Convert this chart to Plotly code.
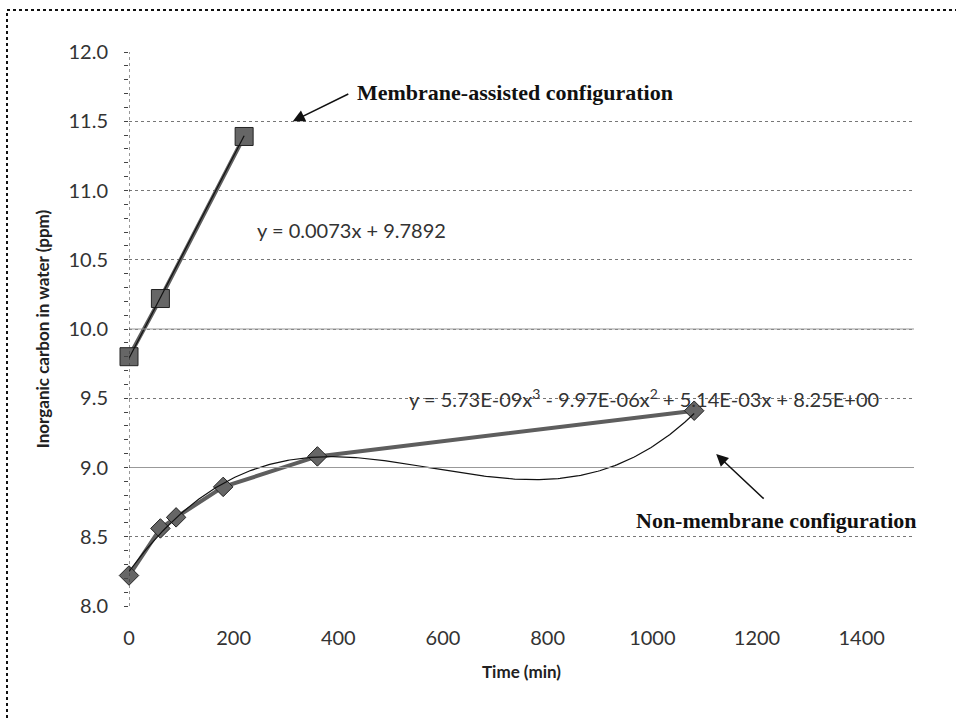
import numpy as np
import plotly.graph_objects as go

# ---- data ----
membrane_time = [0, 60, 220]
membrane_ic = [9.80, 10.22, 11.39]

nonmem_time = [0, 60, 90, 180, 360, 1080]
nonmem_ic = [8.22, 8.56, 8.64, 8.86, 9.08, 9.41]

# trendline coefficients as printed on the chart
lin_coef = [0.0073, 9.7892]                       # slope, intercept
cubic_coef = [5.73e-09, -9.97e-06, 5.14e-03, 8.25]  # x^3, x^2, x, c

x_ticks = [0, 200, 400, 600, 800, 1000, 1200, 1400]
y_ticks = [8.0, 8.5, 9.0, 9.5, 10.0, 10.5, 11.0, 11.5, 12.0]

fig = go.Figure()

xl = np.array([membrane_time[0], membrane_time[-1]], dtype=float)
xc = np.linspace(nonmem_time[0], nonmem_time[-1], 300)

# series lines + markers
fig.add_trace(go.Scatter(
    x=membrane_time, y=membrane_ic, mode="lines+markers",
    line=dict(color="#5e5e5e", width=4),
    marker=dict(symbol="square", size=18, color="#666",
                line=dict(color="#222", width=1)),
    cliponaxis=False, showlegend=False, hoverinfo="skip"))
fig.add_trace(go.Scatter(
    x=nonmem_time, y=nonmem_ic, mode="lines+markers",
    line=dict(color="#5e5e5e", width=4),
    marker=dict(symbol="diamond", size=15, color="#666",
                line=dict(color="#222", width=1)),
    cliponaxis=False, showlegend=False, hoverinfo="skip"))

# trendlines
fig.add_trace(go.Scatter(x=xl, y=np.polyval(lin_coef, xl), mode="lines",
                         line=dict(color="#111", width=1.2),
                         showlegend=False, hoverinfo="skip"))
fig.add_trace(go.Scatter(x=xc, y=np.polyval(cubic_coef, xc), mode="lines",
                         line=dict(color="#111", width=1.2),
                         showlegend=False, hoverinfo="skip"))

tick_font = dict(family="Lato", size=20, color="#333")
title_font = dict(family="Lato", size=17, color="#222")
serif_bold = dict(family="Liberation Serif", size=22, color="#111")

fig.update_layout(
    width=956, height=721,
    margin=dict(l=129, r=42, t=52, b=115),
    paper_bgcolor="white", plot_bgcolor="white",
    xaxis=dict(range=[0, 1500], tickvals=x_ticks,
               ticktext=[str(v) for v in x_ticks],
               showgrid=False, zeroline=False, showline=False,
               automargin=False,
               tickfont=tick_font, ticklabelstandoff=18,
               title=dict(text="<b>Time (min)</b>", font=title_font, standoff=18)),
    yaxis=dict(range=[8.0, 12.0], tickvals=y_ticks,
               ticktext=[f"{v:.1f}" for v in y_ticks],
               showgrid=True, gridcolor="#777", griddash="dot", gridwidth=1,
               zeroline=False, showline=False,
               automargin=False,
               tickfont=tick_font, ticklabelstandoff=20,
               minor=dict(dtick=0.1, ticks="outside", ticklen=4,
                          tickcolor="#444", showgrid=False),
               title=dict(text="<b>Inorganic carbon in water (ppm)</b>",
                          font=title_font, standoff=14)),
)

shapes = []
# solid-looking gridlines at 9.0 and 10.0
for yv in (9.0, 10.0):
    shapes.append(dict(type="line", xref="paper", yref="y", x0=0, x1=1,
                       y0=yv, y1=yv, line=dict(color="#999", width=1)))
# dotted vertical axis line
shapes.append(dict(type="line", xref="x", yref="paper", x0=0, x1=0, y0=0, y1=1,
                   line=dict(color="#333", width=1, dash="dot")))
# outer dotted frame: left and top edges (others run off the page)
shapes.append(dict(type="line", xref="paper", yref="paper",
                   x0=(7 - 129) / 785, x1=(7 - 129) / 785,
                   y0=(606 - 760) / 554, y1=(606 - 10) / 554,
                   line=dict(color="#111", width=2, dash="dot")))
shapes.append(dict(type="line", xref="paper", yref="paper",
                   x0=(7 - 129) / 785, x1=(1000 - 129) / 785,
                   y0=(606 - 10) / 554, y1=(606 - 10) / 554,
                   line=dict(color="#111", width=2, dash="dot")))
fig.update_layout(shapes=shapes)

ann = [
    dict(x=432, y=11.71, xref="x", yref="y", text="<b>Membrane-assisted configuration</b>",
         showarrow=False, xanchor="left", yanchor="middle", font=serif_bold),
    dict(x=313, y=11.50, xref="x", yref="y", text="", showarrow=True,
         ax=57, ay=-28, arrowhead=2, arrowsize=1.6, arrowwidth=1.5, arrowcolor="#111"),
    dict(x=1236, y=8.62, xref="x", yref="y", text="<b>Non-membrane configuration</b>",
         showarrow=False, xanchor="center", yanchor="middle", font=serif_bold),
    dict(x=1122, y=9.097, xref="x", yref="y", text="", showarrow=True,
         ax=49, ay=46, arrowhead=2, arrowsize=1.6, arrowwidth=1.5, arrowcolor="#111"),
    dict(x=241, y=10.715, xref="x", yref="y", text="y = 0.0073x + 9.7892",
         showarrow=False, xanchor="left", yanchor="middle", font=tick_font),
    dict(x=531, y=9.50, xref="x", yref="y",
         text="y = 5.73E-09x<sup>3</sup> - 9.97E-06x<sup>2</sup> + 5.14E-03x + 8.25E+00",
         showarrow=False, xanchor="left", yanchor="middle", font=tick_font),
]
fig.update_layout(annotations=ann)

fig.write_html(
    "out.html",
    config={"displayModeBar": False},
    post_script=("document.documentElement.style.overflow='hidden';"
                 "document.body.style.margin='0';document.body.style.overflow='hidden';"),
)
